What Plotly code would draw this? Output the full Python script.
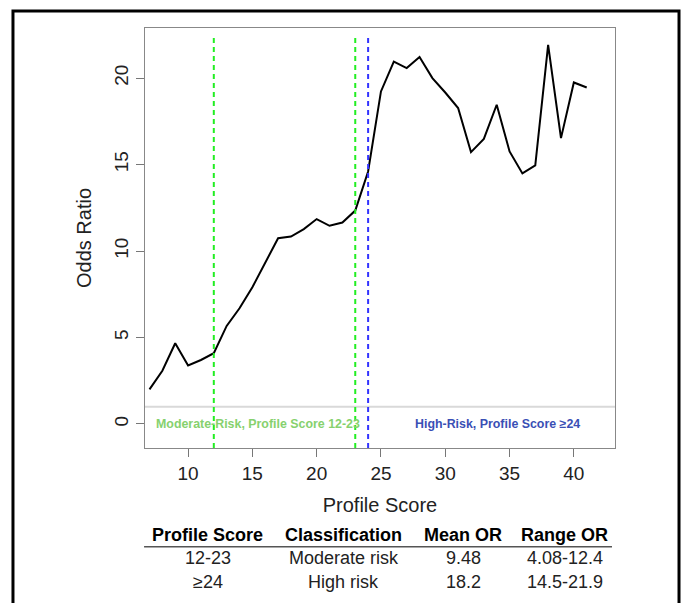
import plotly.graph_objects as go

# ---- data ----
profile_score = list(range(7, 42))
odds_ratio = [2.00, 3.08, 4.67, 3.38, 3.70, 4.09, 5.67, 6.69, 7.91, 9.30,
              10.74, 10.84, 11.27, 11.85, 11.46, 11.65, 12.34, 14.60, 19.23, 20.95,
              20.58, 21.22, 20.00, 19.17, 18.27, 15.72, 16.49, 18.46, 15.76, 14.49,
              14.95, 21.93, 16.53, 19.75, 19.46]

moderate_bounds = [12, 23]
high_bound = 24
reference_or = 1

x_ticks = [10, 15, 20, 25, 30, 35, 40]
y_ticks = [0, 5, 10, 15, 20]

table_header = ["Profile Score", "Classification", "Mean OR", "Range OR"]
table_rows = [["12-23", "Moderate risk", "9.48", "4.08-12.4"],
              ["≥24", "High risk", "18.2", "14.5-21.9"]]

FONT = "Liberation Sans, Arial, sans-serif"

fig = go.Figure()

fig.add_trace(go.Scatter(x=profile_score, y=odds_ratio, mode="lines",
                         line=dict(color="black", width=2), showlegend=False,
                         hoverinfo="x+y"))

# reference line at OR = 1
fig.add_shape(type="line", xref="paper", yref="y", x0=0, x1=1,
              y0=reference_or, y1=reference_or,
              line=dict(color="#d9d9d9", width=2), layer="below")

# cut-off lines
for xv in moderate_bounds:
    fig.add_shape(type="line", xref="x", yref="paper", x0=xv, x1=xv, y0=0, y1=0.98,
                  line=dict(color="#22ee22", width=2, dash="5px,4px"))
fig.add_shape(type="line", xref="x", yref="paper", x0=high_bound, x1=high_bound,
              y0=0, y1=0.98, line=dict(color="#3333ff", width=2, dash="5px,4px"))

# region labels
fig.add_annotation(x=15.45, y=0, xref="x", yref="y", showarrow=False,
                   xanchor="center", yanchor="middle",
                   text="<b>Moderate-Risk, Profile Score 12-23</b>",
                   font=dict(family=FONT, size=12.4, color="#86d16e"))
fig.add_annotation(x=34.05, y=0, xref="x", yref="y", showarrow=False,
                   xanchor="center", yanchor="middle",
                   text="<b>High-Risk, Profile Score ≥24</b>",
                   font=dict(family=FONT, size=12.4, color="#3a4fb5"))

# summary table below the chart
col_x = [0.134, 0.4234, 0.6766, 0.8936]
header_y = -0.2071
row_y = [-0.2626, -0.3183]
for cx, h in zip(col_x, table_header):
    fig.add_annotation(x=cx, y=header_y, xref="paper", yref="paper", showarrow=False,
                       xanchor="center", yanchor="middle",
                       text=f"<b>{h}</b>", font=dict(family=FONT, size=18, color="black"))
for ry, row in zip(row_y, table_rows):
    for cx, v in zip(col_x, row):
        fig.add_annotation(x=cx, y=ry, xref="paper", yref="paper", showarrow=False,
                           xanchor="center", yanchor="middle",
                           text=v, font=dict(family=FONT, size=18, color="#222222"))
fig.add_shape(type="line", xref="paper", yref="paper", x0=-0.002, x1=0.9936,
              y0=-0.235, y1=-0.235, line=dict(color="#555555", width=1.5))

# outer frame
fig.add_shape(type="rect", xref="paper", yref="paper", x0=-0.2809, x1=1.1362,
              y0=-0.40, y1=1.0405, line=dict(color="black", width=3))

fig.update_layout(
    width=682, height=603,
    margin=dict(l=145, r=67, t=28, b=155),
    paper_bgcolor="white", plot_bgcolor="white",
    font=dict(family=FONT, color="#222222"),
    showlegend=False,
    xaxis=dict(range=[6.65, 43.2], tickmode="array", tickvals=x_ticks,
               ticks="outside", ticklen=8, tickcolor="#777777",
               showline=True, linecolor="#888888", linewidth=1.2, mirror=True,
               showgrid=False, zeroline=False,
               tickfont=dict(family=FONT, size=19, color="#222222"),
               title=dict(text="Profile Score", standoff=15,
                          font=dict(family=FONT, size=20, color="#222222"))),
    yaxis=dict(range=[-1.39, 22.9], tickmode="array", tickvals=y_ticks,
               ticks="outside", ticklen=8, tickcolor="#777777", tickangle=-90,
               showline=True, linecolor="#888888", linewidth=1.2, mirror=True,
               showgrid=False, zeroline=False,
               tickfont=dict(family=FONT, size=19, color="#222222"),
               title=dict(text="Odds Ratio", standoff=14,
                          font=dict(family=FONT, size=20, color="#222222"))),
)

fig.write_html("out.html")
